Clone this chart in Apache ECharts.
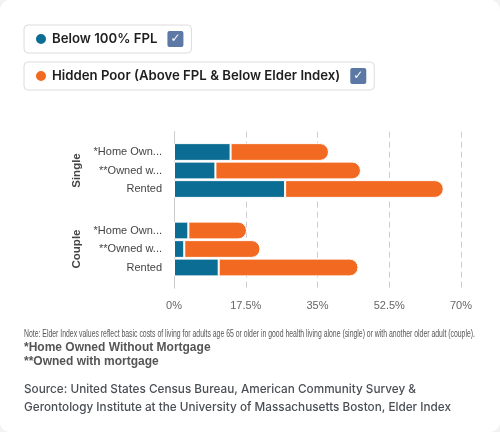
<!DOCTYPE html>
<html>
<head>
<meta charset="utf-8">
<script src="https://cdn.jsdelivr.net/npm/echarts@6/dist/echarts.min.js"></script>
<style>
  html, body { margin: 0; padding: 0; background: #f2f2f2; }
  #card { width: 500px; height: 432px; background: #ffffff; border-radius: 10px; overflow: hidden; }
  #chart { width: 500px; height: 432px; }
</style>
</head>
<body>
<div id="card"><div id="chart"></div></div>
<script>
// ---- data ----
var seriesNames = ['Below 100% FPL', 'Hidden Poor (Above FPL & Below Elder Index)'];
var groups = ['Single', 'Couple'];
var categoryLabels = ['*Home Own...', '**Owned w...', 'Rented'];
var singleBelow = [13.8, 10.1, 27.1];
var singleHidden = [24.0, 35.5, 38.7];
var coupleBelow = [3.5, 2.5, 10.9];
var coupleHidden = [14.3, 18.6, 34.1];
var xTicks = [0, 17.5, 35, 52.5, 70];

var noteText = 'Note: Elder Index values reflect basic costs of living for adults age 65 or older in good health living alone (single) or with another older adult (couple).';
var footLines = ['*Home Owned Without Mortgage', '**Owned with mortgage'];
var sourceLines = ['Source: United States Census Bureau, American Community Survey &',
                   'Gerontology Institute at the University of Massachusetts Boston, Elder Index'];

var BLUE = '#0b6d94';
var ORANGE = '#f26a22';

// measure note for condensed rendering
var cv = document.createElement('canvas').getContext('2d');
var noteFont = '10.5px "Liberation Sans"';
cv.font = noteFont;
var noteScale = 451 / cv.measureText(noteText).width;
var srcFont = '500 12.2px Inter';
cv.font = srcFont;
var srcScale = Math.min(1, 427 / cv.measureText(sourceLines[1]).width);

var chart = echarts.init(document.getElementById('chart'), null, { renderer: 'canvas' });

var PLOT_LEFT = 174, PLOT_RIGHT = 39;

function legendFor(name, top) {
  return {
    data: [name],
    left: 24, top: top,
    orient: 'horizontal',
    padding: [6, 8, 6, 10],
    backgroundColor: '#ffffff',
    borderColor: '#dcdcdc', borderWidth: 1, borderRadius: 4,
    icon: 'circle', itemWidth: 12, itemHeight: 12,
    selectedMode: false,
    formatter: function (n) { return '{t|' + n + '}{c|✓}'; },
    textStyle: {
      rich: {
        t: { fontFamily: 'Inter', fontSize: 13.2, fontWeight: 600, color: '#1f1f1f', padding: [0, 10, 0, 0] },
        c: { backgroundColor: '#5b79a4', color: '#ffffff', width: 16, height: 16, lineHeight: 16,
             align: 'center', fontSize: 12, borderRadius: 2, fontFamily: 'DejaVu Sans' }
      }
    }
  };
}

function yAxisFor(gridIndex, name) {
  return {
    type: 'category', gridIndex: gridIndex, inverse: true,
    data: categoryLabels,
    axisLine: { show: false }, axisTick: { show: false },
    axisLabel: { fontFamily: 'Liberation Sans', fontSize: 11, color: '#444', margin: 12 },
    name: name, nameLocation: 'middle', nameRotate: 90, nameGap: 85,
    nameTextStyle: { fontFamily: 'Liberation Sans', fontSize: 11.5, fontWeight: 'bold', color: '#444' }
  };
}

function hiddenX(gridIndex) {
  return { type: 'value', gridIndex: gridIndex, min: 0, max: 70, interval: 17.5, show: false };
}

function bar(name, data, xi, yi, isEnd, color) {
  return {
    name: name, type: 'bar', stack: 'g' + xi, xAxisIndex: xi, yAxisIndex: yi,
    data: data, barCategoryGap: '4%',
    itemStyle: { color: color, borderColor: '#ffffff', borderWidth: 1,
                 borderRadius: isEnd ? [0, 9, 9, 0] : 0 },
    emphasis: { disabled: true }
  };
}

var option = {
  animation: false,
  backgroundColor: '#ffffff',
  legend: [legendFor(seriesNames[0], 25), legendFor(seriesNames[1], 62)],
  grid: [
    { left: PLOT_LEFT, right: PLOT_RIGHT, top: 131.7, bottom: 432 - 288.3, containLabel: false },
    { left: PLOT_LEFT, right: PLOT_RIGHT, top: 142.75, height: 55.5, containLabel: false },
    { left: PLOT_LEFT, right: PLOT_RIGHT, top: 221.25, height: 55.5, containLabel: false }
  ],
  xAxis: [
    {
      type: 'value', gridIndex: 0, min: xTicks[0], max: xTicks[xTicks.length - 1], interval: xTicks[1] - xTicks[0],
      axisLine: { show: false }, axisTick: { show: false },
      axisLabel: { formatter: '{value}%', fontFamily: 'Liberation Sans', fontSize: 11, color: '#666', margin: 12 },
      splitLine: { show: true, lineStyle: { color: '#cccccc', type: [6, 4], width: 1 } }
    },
    hiddenX(1), hiddenX(2)
  ],
  yAxis: [
    { type: 'value', gridIndex: 0, min: 0, max: 1,
      axisLine: { show: true, lineStyle: { color: '#cccccc' } },
      axisTick: { show: false }, axisLabel: { show: false }, splitLine: { show: false } },
    yAxisFor(1, groups[0]),
    yAxisFor(2, groups[1])
  ],
  series: [
    bar(seriesNames[0], singleBelow, 1, 1, false, BLUE),
    bar(seriesNames[1], singleHidden, 1, 1, true, ORANGE),
    bar(seriesNames[0], coupleBelow, 2, 2, false, BLUE),
    bar(seriesNames[1], coupleHidden, 2, 2, true, ORANGE)
  ],
  graphic: [
    { type: 'text', x: 24, y: 334.5, scaleX: noteScale, silent: true,
      style: { text: noteText, font: noteFont, fill: '#555', verticalAlign: 'middle', textVerticalAlign: 'middle' } },
    { type: 'text', x: 24, y: 347.5, silent: true,
      style: { text: footLines[0], font: 'bold 12px "Liberation Sans"', fill: '#555', verticalAlign: 'middle', textVerticalAlign: 'middle' } },
    { type: 'text', x: 24, y: 362, silent: true,
      style: { text: footLines[1], font: 'bold 12px "Liberation Sans"', fill: '#555', verticalAlign: 'middle', textVerticalAlign: 'middle' } },
    { type: 'text', x: 24, y: 389, scaleX: srcScale, silent: true,
      style: { text: sourceLines[0], font: srcFont, fill: '#4a4f55', verticalAlign: 'middle', textVerticalAlign: 'middle' } },
    { type: 'text', x: 24, y: 407.5, scaleX: srcScale, silent: true,
      style: { text: sourceLines[1], font: srcFont, fill: '#4a4f55', verticalAlign: 'middle', textVerticalAlign: 'middle' } }
  ]
};

chart.setOption(option);
</script>
</body>
</html>
